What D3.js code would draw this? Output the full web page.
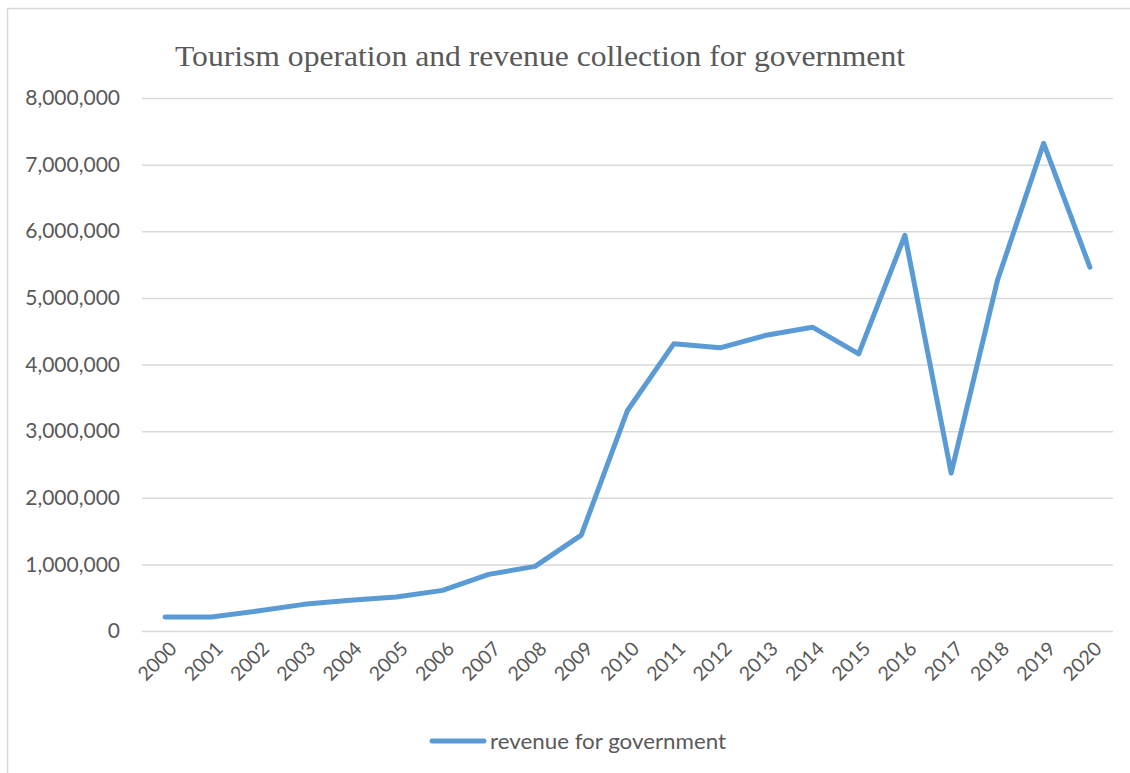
<!DOCTYPE html>
<html>
<head>
<meta charset="utf-8">
<script src="https://cdn.jsdelivr.net/npm/d3@7"></script>
<style>
  html, body { margin: 0; padding: 0; background: #fff; }
  svg { display: block; }
</style>
</head>
<body>
<svg id="chart" width="1130" height="773"></svg>
<script>
// Government revenue from tourism operations, by year
const years = ["2000","2001","2002","2003","2004","2005","2006","2007","2008","2009",
               "2010","2011","2012","2013","2014","2015","2016","2017","2018","2019","2020"];
const revenue = [210000, 210000, 300000, 400000, 460000, 510000, 610000, 850000, 970000, 1440000,
                 3310000, 4310000, 4250000, 4440000, 4560000, 4160000, 5940000, 2370000, 5260000, 7320000, 5460000];
const yTicks = [0, 1000000, 2000000, 3000000, 4000000, 5000000, 6000000, 7000000, 8000000];
const seriesName = "revenue for government";
const titleText = "Tourism operation and revenue collection for government";

const svg = d3.select("#chart");
const W = 1130, H = 773;
const plot = { left: 142, right: 1113, top: 98, bottom: 631 };
const lineColor = "#5B9BD5";
const textColor = "#595959";
const gridColor = "#D9D9D9";
const sansFont = "Lato, 'Open Sans', 'Liberation Sans', sans-serif";

// chart area frame
svg.append("rect")
  .attr("x", 7.5).attr("y", 8.5)
  .attr("width", W).attr("height", H)
  .attr("fill", "#fff")
  .attr("stroke", "#D9D9D9").attr("stroke-width", 1.5);

const x = d3.scaleBand().domain(years).range([plot.left, plot.right]);
const y = d3.scaleLinear().domain([0, 8000000]).range([plot.bottom, plot.top]);

// horizontal gridlines + value labels
const yAxis = d3.axisLeft(y)
  .tickValues(yTicks)
  .tickSize(-(plot.right - plot.left))
  .tickPadding(22)
  .tickFormat(d3.format(","));
const gy = svg.append("g")
  .attr("transform", `translate(${plot.left},0)`)
  .call(yAxis);
gy.select(".domain").remove();
gy.selectAll(".tick line").attr("stroke", gridColor).attr("stroke-width", 1.5);
gy.selectAll(".tick text")
  .attr("fill", textColor)
  .style("font-family", sansFont)
  .style("font-size", "21px");

// category labels, rotated
const xAxis = d3.axisBottom(x).tickSize(0).tickPadding(0);
const gx = svg.append("g")
  .attr("transform", `translate(0,${plot.bottom})`)
  .call(xAxis);
gx.select(".domain").remove();
gx.selectAll(".tick text")
  .attr("fill", textColor)
  .style("font-family", sansFont)
  .style("font-size", "19.5px")
  .attr("text-anchor", "end")
  .attr("dy", "0")
  .attr("y", 0)
  .attr("transform", "translate(13,19) rotate(-45)");

// series line
const line = d3.line()
  .x((d, i) => x(years[i]) + x.bandwidth() / 2)
  .y(d => y(d));
svg.append("path")
  .datum(revenue)
  .attr("d", line)
  .attr("fill", "none")
  .attr("stroke", lineColor)
  .attr("stroke-width", 5)
  .attr("stroke-linejoin", "round")
  .attr("stroke-linecap", "round");

// title
svg.append("text")
  .attr("x", 175).attr("y", 66)
  .attr("textLength", 730)
  .attr("lengthAdjust", "spacingAndGlyphs")
  .attr("fill", textColor)
  .style("font-family", "'Liberation Serif', 'DejaVu Serif', serif")
  .style("font-size", "30px")
  .text(titleText);

// legend
const lg = svg.append("g");
lg.append("line")
  .attr("x1", 432).attr("x2", 484)
  .attr("y1", 741).attr("y2", 741)
  .attr("stroke", lineColor).attr("stroke-width", 5)
  .attr("stroke-linecap", "round");
lg.append("text")
  .attr("x", 490).attr("y", 749)
  .attr("textLength", 236)
  .attr("lengthAdjust", "spacingAndGlyphs")
  .attr("fill", textColor)
  .style("font-family", sansFont)
  .style("font-size", "21px")
  .text(seriesName);
</script>
</body>
</html>
